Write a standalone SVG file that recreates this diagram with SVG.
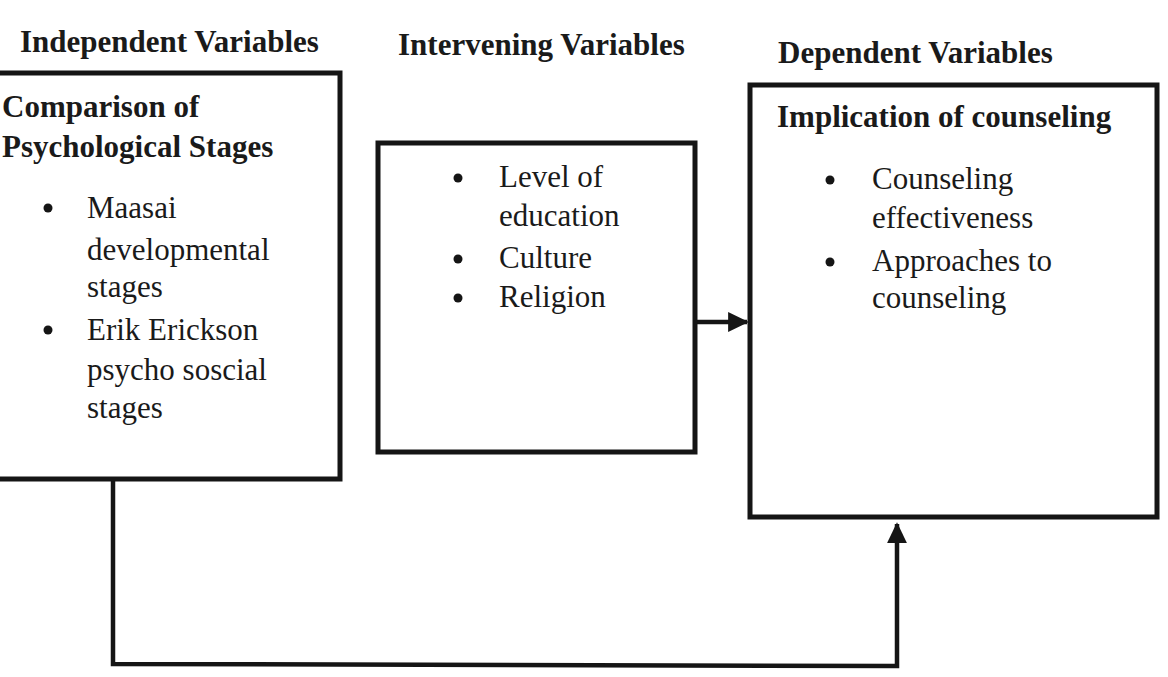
<svg xmlns="http://www.w3.org/2000/svg" width="1168" height="677" viewBox="0 0 1168 677">
<style>
.hdr{font-family:"Liberation Serif","Times New Roman",serif;font-weight:bold;font-size:31px;fill:#1a1a1a}
.ttl{font-family:"Liberation Serif","Times New Roman",serif;font-weight:bold;font-size:31px;fill:#1a1a1a}
.txt{font-family:"Liberation Serif","Times New Roman",serif;font-size:31px;fill:#1a1a1a}
.box{fill:#fff;stroke:#151515;stroke-width:5}
.conn{fill:none;stroke:#151515;stroke-width:4.5}
.dot{fill:#151515}
</style>
<defs>
<marker id="ah" markerWidth="5" markerHeight="5" refX="4.2" refY="2.5" orient="auto" markerUnits="strokeWidth">
<path d="M0,0.3 L4.6,2.5 L0,4.7 Z" fill="#151515"/>
</marker>
</defs>
<rect width="1168" height="677" fill="#fff"/>
<g id="headers">
<text class="hdr" x="20" y="52">Independent Variables</text>
<text class="hdr" x="398" y="55">Intervening Variables</text>
<text class="hdr" x="778" y="63">Dependent Variables</text>
</g>
<g id="connectors">
<path class="conn" d="M697,322 L747,322" marker-end="url(#ah)"/>
<path class="conn" d="M113,480 L113,664 L897,666 L897,524" marker-end="url(#ah)"/>
</g>
<g id="independent">
<rect class="box" x="-10" y="73" width="350" height="406"/>
<text class="ttl" x="2" y="117" font-size="30">Comparison of</text>
<text class="ttl" x="2" y="157" font-size="30">Psychological Stages</text>
<circle class="dot" cx="48" cy="208" r="4.5"/>
<text class="txt" x="87" y="218">Maasai</text>
<text class="txt" x="87" y="260">developmental</text>
<text class="txt" x="87" y="297">stages</text>
<circle class="dot" cx="48" cy="330" r="4.5"/>
<text class="txt" x="87" y="340">Erik Erickson</text>
<text class="txt" x="87" y="380">psycho soscial</text>
<text class="txt" x="87" y="418">stages</text>
</g>
<g id="intervening">
<rect class="box" x="378" y="143" width="317" height="309"/>
<circle class="dot" cx="458" cy="178" r="4.5"/>
<text class="txt" x="499" y="187">Level of</text>
<text class="txt" x="499" y="226">education</text>
<circle class="dot" cx="458" cy="259" r="4.5"/>
<text class="txt" x="499" y="268">Culture</text>
<circle class="dot" cx="458" cy="298" r="4.5"/>
<text class="txt" x="499" y="307">Religion</text>
</g>
<g id="dependent">
<rect class="box" x="750" y="85" width="407" height="432"/>
<text class="ttl" x="777" y="127">Implication of counseling</text>
<circle class="dot" cx="830" cy="180" r="4.5"/>
<text class="txt" x="872" y="189">Counseling</text>
<text class="txt" x="872" y="228">effectiveness</text>
<circle class="dot" cx="830" cy="262" r="4.5"/>
<text class="txt" x="872" y="271">Approaches to</text>
<text class="txt" x="872" y="308">counseling</text>
</g>
</svg>
